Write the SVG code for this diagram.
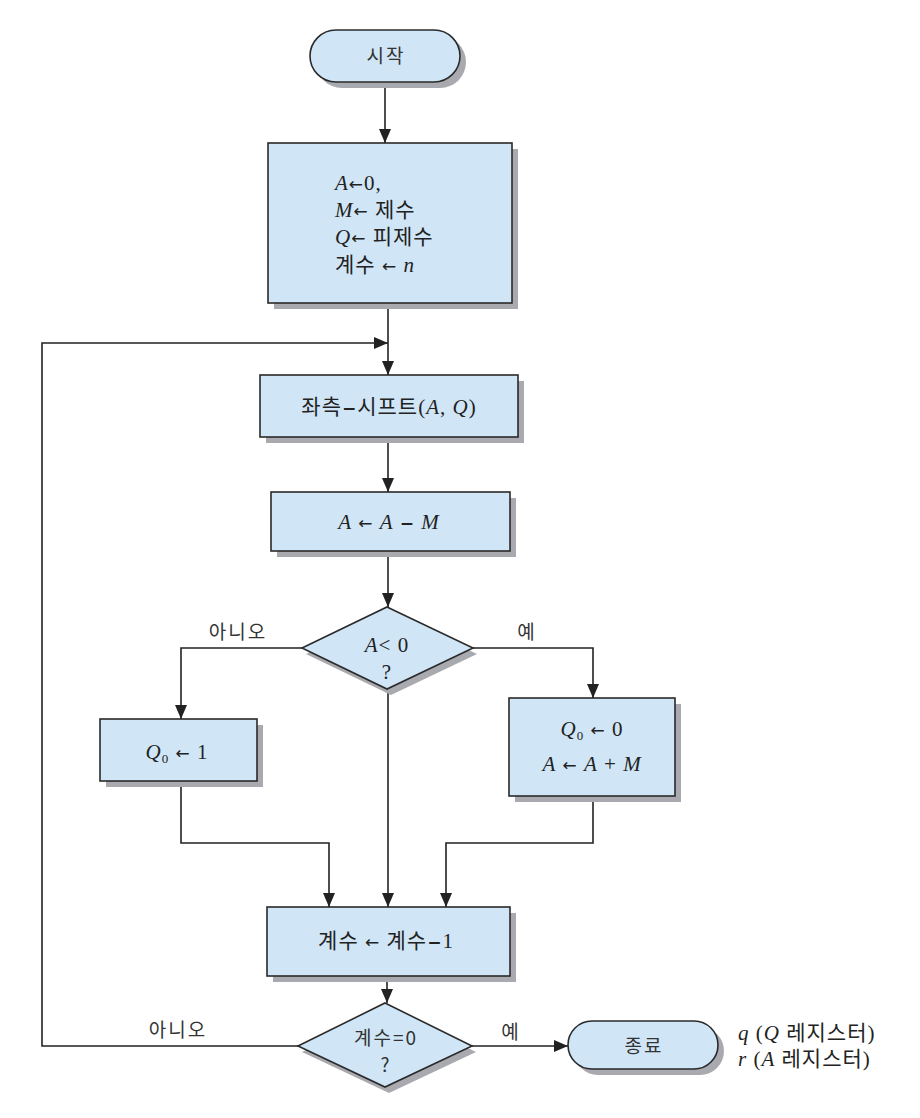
<svg xmlns="http://www.w3.org/2000/svg" width="920" height="1118" viewBox="0 0 920 1118">
<defs>
<marker id="ah" markerUnits="userSpaceOnUse" markerWidth="14" markerHeight="12" refX="14" refY="6" orient="auto">
<path d="M0,0 L14,6 L0,12 z" fill="#222"/>
</marker>
<style>
.box{fill:#d0e6f6;stroke:#2a2a2a;stroke-width:1.6}
.sh{fill:#a9a9b0}
.ln{fill:none;stroke:#222;stroke-width:1.6;marker-end:url(#ah)}
.t{font-family:"Liberation Serif","Noto Sans CJK KR",serif;font-size:21px;fill:#222;letter-spacing:1px}
.k{font-family:"Noto Sans CJK KR","Liberation Sans",sans-serif;font-size:19px;fill:#333;letter-spacing:2px}
.ar{font-family:"DejaVu Sans",sans-serif;font-size:17px}
.c{text-anchor:middle}
.i{font-style:italic}
.sub{font-size:13px}
</style>
</defs>
<rect width="920" height="1118" fill="#fff"/>

<g id="connectors">
<path class="ln" d="M385,82 V143"/>
<path class="ln" d="M388,303 V375"/>
<path class="ln" d="M298,1046 H42 V343 H388"/>
<path class="ln" d="M388,437 V492"/>
<path class="ln" d="M388,551 V607"/>
<path class="ln" d="M302,648 H181 V719"/>
<path class="ln" d="M473,648 H593 V698"/>
<path class="ln" d="M181,781 V843 H329 V907"/>
<path class="ln" d="M388,689 V907"/>
<path class="ln" d="M593,796 V843 H446 V907"/>
<path class="ln" d="M387,976 V1003"/>
<path class="ln" d="M472,1046 H568"/>
</g>

<g id="start">
<rect class="sh" x="316" y="36" width="150" height="52" rx="26"/>
<rect class="box" x="310" y="30" width="150" height="52" rx="26"/>
<text class="k c" x="386" y="63" font-size="20">시작</text>
</g>

<g id="init">
<rect class="sh" x="274" y="149" width="244" height="160"/>
<rect class="box" x="268" y="143" width="244" height="160"/>
<text class="t" x="335" y="190"><tspan class="i">A</tspan><tspan class="ar">←</tspan>0,</text>
<text class="t" x="335" y="217"><tspan class="i">M</tspan><tspan class="ar">←</tspan> 제수</text>
<text class="t" x="335" y="244"><tspan class="i">Q</tspan><tspan class="ar">←</tspan> 피제수</text>
<text class="t" x="335" y="272">계수 <tspan class="ar">←</tspan> <tspan class="i">n</tspan></text>
</g>

<g id="shift">
<rect class="sh" x="266" y="381" width="258" height="62"/>
<rect class="box" x="260" y="375" width="258" height="62"/>
<text class="t c" x="389" y="414">좌측<tspan class="ar" font-weight="bold">−</tspan>시프트(<tspan class="i">A</tspan>, <tspan class="i">Q</tspan>)</text>
</g>

<g id="sub">
<rect class="sh" x="277" y="498" width="239" height="59"/>
<rect class="box" x="271" y="492" width="239" height="59"/>
<text class="t c" x="389" y="529"><tspan class="i">A</tspan>  <tspan class="ar">←</tspan>  <tspan class="i">A</tspan>  <tspan class="ar" font-weight="bold">−</tspan>  <tspan class="i">M</tspan></text>
</g>

<g id="dec1">
<polygon class="sh" points="391,613 477,654 391,695 306,654"/>
<polygon class="box" points="387,607 473,648 387,689 302,648"/>
<text class="t c" x="387" y="652"><tspan class="i">A</tspan>&lt; 0</text>
<text class="t c" x="387" y="679">?</text>
</g>
<text class="k c" x="238" y="639">아니오</text>
<text class="k c" x="527" y="639">예</text>

<g id="q1">
<rect class="sh" x="106" y="725" width="157" height="62"/>
<rect class="box" x="100" y="719" width="157" height="62"/>
<text class="t c" x="177" y="759"><tspan class="i">Q</tspan><tspan class="sub" dy="4">0</tspan><tspan dy="-4"> </tspan><tspan class="ar">←</tspan> 1</text>
</g>

<g id="q0">
<rect class="sh" x="515" y="704" width="166" height="98"/>
<rect class="box" x="509" y="698" width="166" height="98"/>
<text class="t c" x="592" y="736"><tspan class="i">Q</tspan><tspan class="sub" dy="4">0</tspan><tspan dy="-4"> </tspan><tspan class="ar">←</tspan> 0</text>
<text class="t c" x="592" y="771"><tspan class="i">A</tspan> <tspan class="ar">←</tspan> <tspan class="i">A</tspan> + <tspan class="i">M</tspan></text>
</g>

<g id="count">
<rect class="sh" x="273" y="913" width="243" height="69"/>
<rect class="box" x="267" y="907" width="243" height="69"/>
<text class="t c" x="386" y="948">계수 <tspan class="ar">←</tspan> 계수<tspan class="ar" font-weight="bold">−</tspan>1</text>
</g>

<g id="dec2">
<polygon class="sh" points="389,1009 476,1052 389,1093 302,1052"/>
<polygon class="box" points="385,1003 472,1046 385,1087 298,1046"/>
<text class="k c" x="386" y="1045">계수=0</text>
<text class="k c" x="386" y="1072">?</text>
</g>
<text class="k c" x="178" y="1037">아니오</text>
<text class="k c" x="511" y="1039">예</text>

<g id="end">
<rect class="sh" x="574" y="1027" width="150" height="48" rx="24"/>
<rect class="box" x="568" y="1021" width="150" height="48" rx="24"/>
<text class="k c" x="644" y="1053" font-size="20">종료</text>
</g>

<g id="result">
<text class="t" x="738" y="1040"><tspan class="i">q</tspan> (<tspan class="i">Q</tspan> 레지스터)</text>
<text class="t" x="738" y="1066"><tspan class="i">r</tspan> (<tspan class="i">A</tspan> 레지스터)</text>
</g>
</svg>
